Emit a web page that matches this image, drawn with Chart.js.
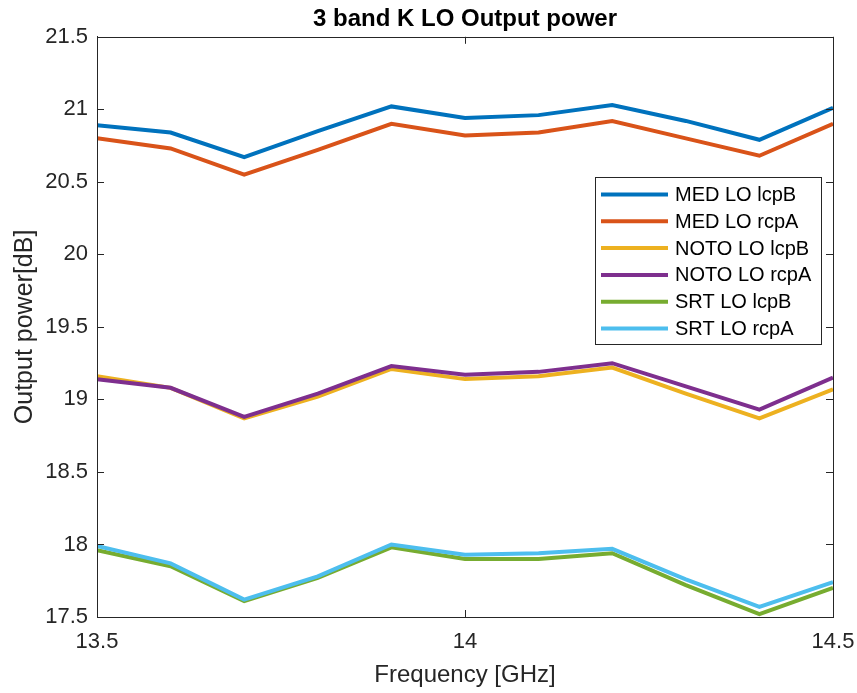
<!DOCTYPE html>
<html>
<head>
<meta charset="utf-8">
<script src="https://cdn.jsdelivr.net/npm/chart.js@4/dist/chart.umd.min.js"></script>
<style>
  html, body { margin: 0; padding: 0; background: #fff; }
  #wrap { width: 857px; height: 693px; }
</style>
</head>
<body>
<div id="wrap"><canvas id="loChart" width="857" height="693"></canvas></div>
<script>
// frequencies [GHz]
const freqs = [13.5, 13.6, 13.7, 13.8, 13.9, 14.0, 14.1, 14.2, 14.3, 14.4, 14.5];

// output power [dB] per receiver / polarisation
const medLcpB  = [20.89, 20.84, 20.67, 20.85, 21.02, 20.94, 20.96, 21.03, 20.92, 20.79, 21.01];
const medRcpA  = [20.80, 20.73, 20.55, 20.72, 20.90, 20.82, 20.84, 20.92, 20.80, 20.68, 20.90];
const notoLcpB = [19.16, 19.08, 18.87, 19.02, 19.21, 19.14, 19.16, 19.22, 19.04, 18.87, 19.07];
const notoRcpA = [19.14, 19.08, 18.88, 19.04, 19.23, 19.17, 19.19, 19.25, 19.09, 18.93, 19.15];
const srtLcpB  = [17.96, 17.85, 17.61, 17.77, 17.98, 17.90, 17.90, 17.94, 17.72, 17.52, 17.70];
const srtRcpA  = [17.99, 17.87, 17.62, 17.78, 18.00, 17.93, 17.94, 17.97, 17.76, 17.57, 17.74];

const seriesNames = ["MED LO lcpB", "MED LO rcpA", "NOTO LO lcpB", "NOTO LO rcpA", "SRT LO lcpB", "SRT LO rcpA"];
const seriesValues = [medLcpB, medRcpA, notoLcpB, notoRcpA, srtLcpB, srtRcpA];
const seriesColors = ["#0072BD", "#D95319", "#EDB120", "#7E2F8E", "#77AC30", "#4DBEEE"];

// axis ticks
const xTicks = [13.5, 14, 14.5];
const yTicks = [17.5, 18, 18.5, 19, 19.5, 20, 20.5, 21, 21.5];

const FONT = "'Liberation Sans', Arial, Helvetica, sans-serif";
const AXIS_COLOR = "#262626";

// box round the plot + inward tick marks, like matlab
const boxPlugin = {
  id: "matlabBox",
  afterDatasetsDraw(chart) {
    const { ctx, chartArea: a, scales } = chart;
    const len = 7;
    ctx.save();
    ctx.strokeStyle = AXIS_COLOR;
    ctx.lineWidth = 1;
    ctx.beginPath();
    scales.x.ticks.forEach((t) => {
      const px = Math.round(scales.x.getPixelForValue(t.value)) + 0.5;
      ctx.moveTo(px, a.bottom); ctx.lineTo(px, a.bottom - len);
      ctx.moveTo(px, a.top); ctx.lineTo(px, a.top + len);
    });
    scales.y.ticks.forEach((t) => {
      const py = Math.round(scales.y.getPixelForValue(t.value)) + 0.5;
      ctx.moveTo(a.left, py); ctx.lineTo(a.left + len, py);
      ctx.moveTo(a.right, py); ctx.lineTo(a.right - len, py);
    });
    ctx.stroke();
    ctx.strokeRect(Math.round(a.left) + 0.5, Math.round(a.top) + 0.5,
      Math.round(a.right - a.left), Math.round(a.bottom - a.top));
    ctx.restore();
  },
};

// legend box inside the plot, top right
const legendPlugin = {
  id: "insideLegend",
  afterDraw(chart) {
    const { ctx } = chart;
    const x0 = 595, y0 = 177, w = 226, h = 167;
    const rowH = 26.8, firstRow = 194.5;
    ctx.save();
    ctx.fillStyle = "#fff";
    ctx.fillRect(x0, y0, w, h);
    ctx.strokeStyle = AXIS_COLOR;
    ctx.lineWidth = 1;
    ctx.strokeRect(x0 + 0.5, y0 + 0.5, w, h);
    ctx.font = "20px " + FONT;
    ctx.textBaseline = "middle";
    ctx.textAlign = "left";
    chart.data.datasets.forEach((ds, i) => {
      const y = firstRow + i * rowH;
      ctx.strokeStyle = ds.borderColor;
      ctx.lineWidth = 4;
      ctx.beginPath();
      ctx.moveTo(601, y);
      ctx.lineTo(668, y);
      ctx.stroke();
      ctx.fillStyle = "#000";
      ctx.fillText(ds.label, 675, y + 1);
    });
    ctx.restore();
  },
};

new Chart(document.getElementById("loChart"), {
  type: "line",
  data: {
    datasets: seriesNames.map((name, i) => ({
      label: name,
      data: freqs.map((f, k) => ({ x: f, y: seriesValues[i][k] })),
      borderColor: seriesColors[i],
      backgroundColor: seriesColors[i],
      borderWidth: 4,
      pointRadius: 0,
      tension: 0,
      fill: false,
      order: seriesNames.length - i,
    })),
  },
  options: {
    responsive: false,
    animation: false,
    events: [],
    layout: { padding: { left: 0, right: 24, top: 0, bottom: 0 } },
    plugins: {
      legend: { display: false },
      tooltip: { enabled: false },
      title: {
        display: true,
        fullSize: false,
        text: "3 band K LO Output power",
        color: "#000",
        font: { family: FONT, size: 24, weight: "bold", lineHeight: 1.2 },
        padding: { top: 5, bottom: 3 },
      },
    },
    scales: {
      x: {
        type: "linear",
        min: 13.5,
        max: 14.5,
        afterFit: (s) => {
          s.height = 76;
          s.paddingLeft = 0;
          s.paddingRight = 0;
        },
        afterBuildTicks: (s) => { s.ticks = xTicks.map((v) => ({ value: v })); },
        grid: { display: false, drawTicks: false },
        border: { display: true, color: AXIS_COLOR, width: 1 },
        ticks: {
          color: AXIS_COLOR,
          padding: 12,
          maxRotation: 0,
          font: { family: FONT, size: 22 },
          callback: (v) => String(v),
        },
        title: {
          display: true,
          text: "Frequency [GHz]",
          color: AXIS_COLOR,
          font: { family: FONT, size: 24 },
          padding: { top: 0, bottom: 3 },
        },
      },
      y: {
        type: "linear",
        min: 17.5,
        max: 21.5,
        afterFit: (s) => { s.width = 97; },
        afterBuildTicks: (s) => { s.ticks = yTicks.map((v) => ({ value: v })); },
        grid: { display: false, drawTicks: false },
        border: { display: true, color: AXIS_COLOR, width: 1 },
        ticks: {
          color: AXIS_COLOR,
          padding: 9,
          font: { family: FONT, size: 22 },
          callback: (v) => String(v),
        },
        title: {
          display: true,
          text: "Output power[dB]",
          color: AXIS_COLOR,
          font: { family: FONT, size: 25 },
          padding: { top: 10, bottom: 0 },
        },
      },
    },
  },
  plugins: [boxPlugin, legendPlugin],
});
</script>
</body>
</html>
